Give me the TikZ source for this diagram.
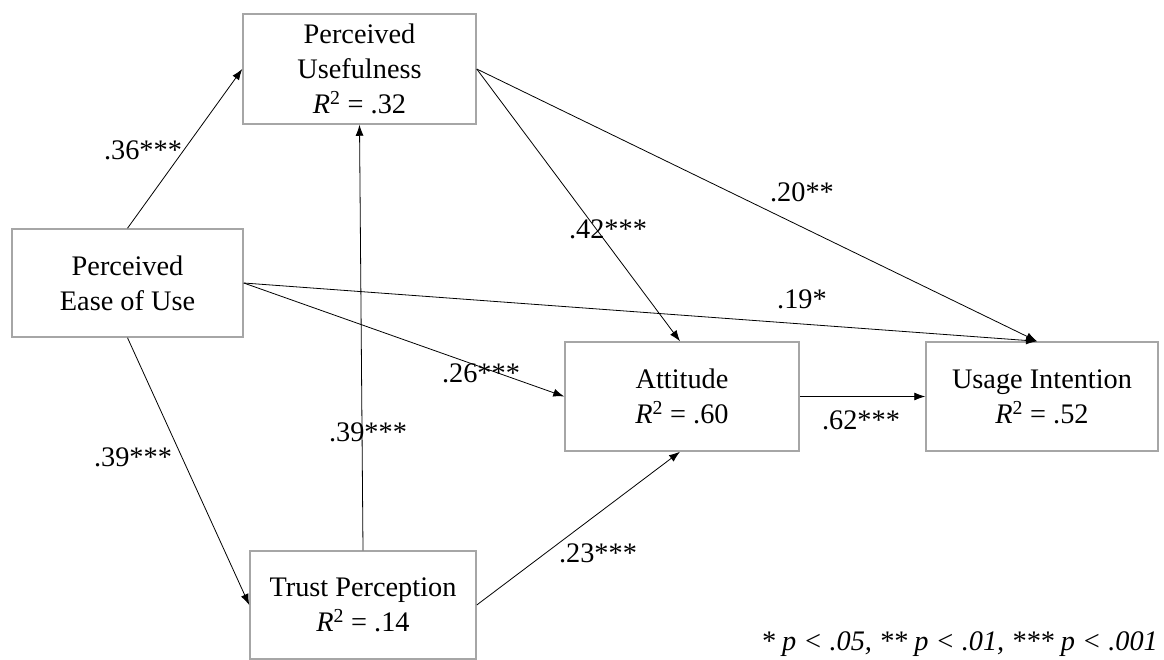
\documentclass[tikz,border=0pt]{standalone}
\usepackage{fontspec}
\setmainfont{Liberation Serif}
\usetikzlibrary{arrows.meta}
\definecolor{boxgray}{RGB}{166,166,166}
\begin{document}
\begin{tikzpicture}[x=1pt,y=-1pt,
  box/.style={draw=boxgray,line width=1.5pt,inner sep=0pt,align=center,
    font=\fontsize{28.3}{35}\selectfont},
  arr/.style={draw=black,line width=0.8pt,-{Latex[length=11pt,width=8pt]}},
  lbl/.style={inner sep=0pt,font=\fontsize{28.3}{33}\selectfont}]
\useasboundingbox (0,0) rectangle (1164,660);
% boxes
\node[box,minimum width=233pt,minimum height=110pt] (pu) at (359.5,69)
  {Perceived\\Usefulness\\\textit{R}\textsuperscript{2} = .32};
\node[box,minimum width=231pt,minimum height=108pt] (peu) at (127.5,283)
  {Perceived\\Ease of Use};
\node[box,minimum width=226pt,minimum height=108pt] (tp) at (363,605)
  {Trust Perception\\\textit{R}\textsuperscript{2} = .14};
\node[box,minimum width=234pt,minimum height=109pt] (att) at (682,396.5)
  {Attitude\\\textit{R}\textsuperscript{2} = .60};
\node[box,minimum width=232pt,minimum height=109pt] (ui) at (1042,396.5)
  {Usage Intention\\\textit{R}\textsuperscript{2} = .52};
% connectors
\draw[arr] (peu.north) -- (pu.west);
\draw[arr] (peu.south) -- (tp.west);
\draw[arr] (tp.north) -- (pu.south);
\draw[arr] (peu.east) -- (att.west);
\draw[arr] (peu.east) -- ([xshift=-5pt]ui.north);
\draw[arr] (pu.east) -- ([xshift=-2pt]att.north);
\draw[arr] (pu.east) -- ([xshift=-5pt]ui.north);
\draw[arr] (tp.east) -- ([xshift=-2pt]att.south);
\draw[arr] (att.east) -- (ui.west);
% labels
\node[lbl] (l1) at (143,150) {.36***};
\node[lbl] (l2) at (133,457) {.39***};
\node[lbl] (l3) at (368,432) {.39***};
\node[lbl] (l4) at (481,373) {.26***};
\node[lbl] (l5) at (608,229) {.42***};
\node[lbl] (l6) at (802,192) {.20**};
\node[lbl] (l7) at (802,299) {.19*};
\node[lbl] (l8) at (861,420) {.62***};
\node[lbl] (l9) at (598,553) {.23***};
\node[lbl,anchor=base east] (note) at (1158,650)
  {\itshape * p < .05, ** p < .01, *** p < .001};
\end{tikzpicture}
\end{document}
